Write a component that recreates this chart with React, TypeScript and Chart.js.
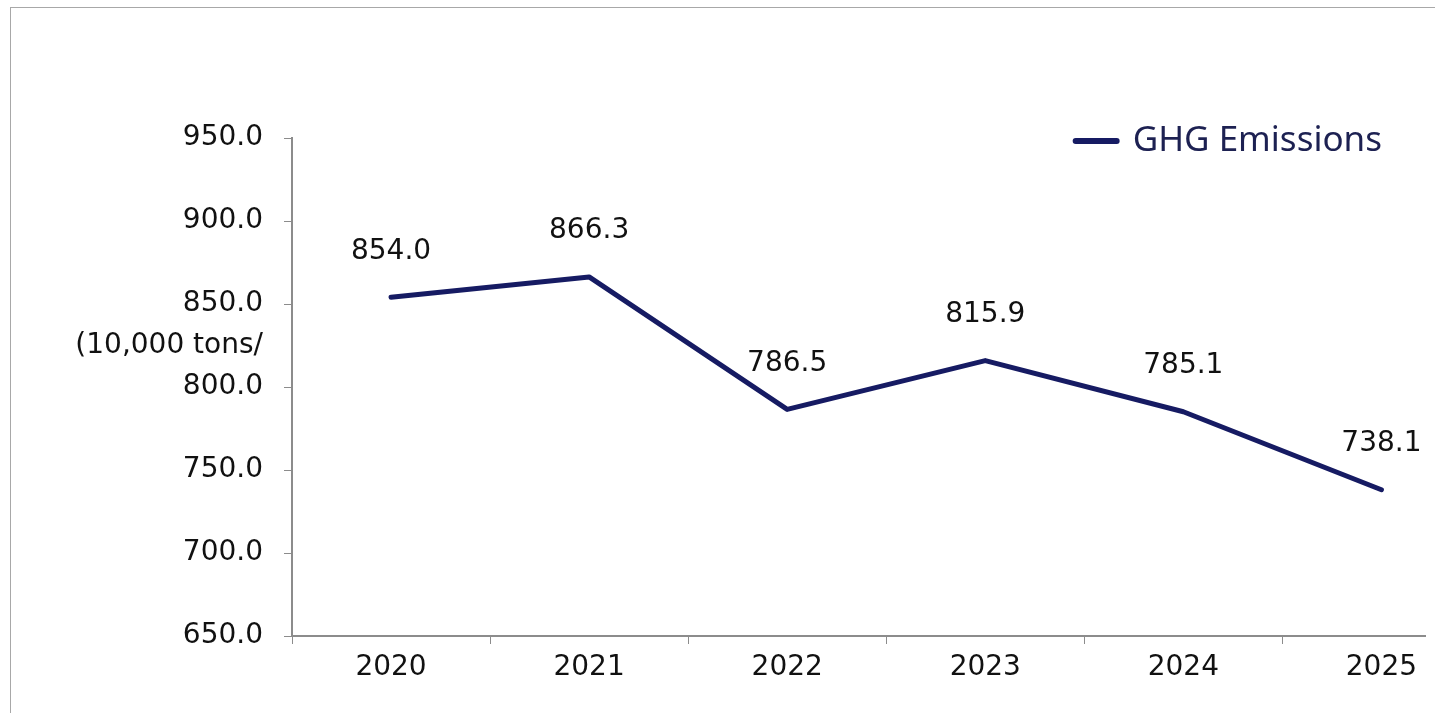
import React, { useEffect, useRef } from "react";
import { Chart, registerables } from "chart.js";

Chart.register(...registerables);

const categories = ["2020", "2021", "2022", "2023", "2024", "2025"];
const emissions = [854.0, 866.3, 786.5, 815.9, 785.1, 738.1];
const seriesLabel = "GHG Emissions";
const yTickValues = [650, 700, 750, 800, 825, 850, 900, 950];
const unitTickValue = 825;
const unitLabel = "(10,000 tons/";

export default function App() {
  const ref = useRef<HTMLCanvasElement>(null);

  useEffect(() => {
    if (!ref.current) return;
    const navy = "#161b63";
    const axisGray = "#8c8c8c";
    const transparent = "rgba(0,0,0,0)";
    const tickFont = { family: "DejaVu Sans", size: 28 };

    const labelPlugin = {
      id: "valueLabels",
      afterDatasetsDraw(chart: any) {
        const ctx = chart.ctx;
        const meta = chart.getDatasetMeta(0);
        ctx.save();
        ctx.font = "28px 'DejaVu Sans'";
        ctx.fillStyle = "#111111";
        ctx.textAlign = "center";
        ctx.textBaseline = "middle";
        meta.data.forEach((pt: any, i: number) => {
          ctx.fillText(emissions[i].toFixed(1), pt.x, pt.y - 46);
        });
        ctx.restore();
      },
    };

    const legendPlugin = {
      id: "legendRight",
      afterDraw(chart: any) {
        const { ctx, chartArea } = chart;
        const ds = chart.data.datasets[0];
        ctx.save();
        ctx.font = "35px 'Noto Sans'";
        const w = ctx.measureText(ds.label).width;
        const textRight = chartArea.right - 43;
        const textLeft = textRight - w;
        const y = chartArea.top + 3;
        ctx.strokeStyle = ds.borderColor;
        ctx.lineWidth = 6;
        ctx.lineCap = "round";
        ctx.beginPath();
        ctx.moveTo(textLeft - 57, y);
        ctx.lineTo(textLeft - 16, y);
        ctx.stroke();
        ctx.fillStyle = "#1d2152";
        ctx.textAlign = "left";
        ctx.textBaseline = "middle";
        ctx.fillText(ds.label, textLeft, y);
        ctx.restore();
      },
    };

    const chart = new Chart(ref.current, {
      type: "line",
      data: {
        datasets: [
          {
            label: seriesLabel,
            data: emissions.map((v, i) => ({ x: i, y: v })),
            borderColor: navy,
            backgroundColor: navy,
            borderWidth: 5,
            pointRadius: 0,
            tension: 0,
            borderCapStyle: "round",
            borderJoinStyle: "round",
          },
        ],
      },
      options: {
        animation: false,
        responsive: false,
        maintainAspectRatio: false,
        devicePixelRatio: 1,
        layout: { padding: { top: 138, right: 10, left: 0, bottom: 0 } },
        plugins: { legend: { display: false }, tooltip: { enabled: false } },
        scales: {
          x: {
            type: "linear",
            min: -0.5,
            max: 5.22,
            afterBuildTicks(scale: any) {
              const t: any[] = [];
              for (let i = 0; i < categories.length; i++) {
                t.push({ value: i - 0.5 });
                t.push({ value: i });
              }
              scale.ticks = t;
            },
            afterFit(scale: any) {
              scale.height = 77;
            },
            grid: {
              drawOnChartArea: false,
              drawTicks: true,
              tickLength: 8,
              lineWidth: 1,
              color: (c: any) =>
                c.tick && Number.isInteger(c.tick.value) ? transparent : axisGray,
            },
            border: { color: axisGray, width: 2 },
            ticks: {
              autoSkip: false,
              maxRotation: 0,
              font: tickFont,
              color: "#111111",
              padding: 7,
              callback: (v: any) =>
                Number.isInteger(v) ? categories[v] ?? "" : "",
            },
          },
          y: {
            type: "linear",
            min: 650,
            max: 950,
            afterBuildTicks(scale: any) {
              scale.ticks = yTickValues.map((v) => ({ value: v }));
            },
            afterFit(scale: any) {
              scale.width = 292;
            },
            grid: {
              drawOnChartArea: false,
              drawTicks: true,
              tickLength: 8,
              lineWidth: 1,
              color: (c: any) =>
                c.tick && c.tick.value === unitTickValue ? transparent : axisGray,
            },
            border: { color: axisGray, width: 2 },
            ticks: {
              autoSkip: false,
              font: tickFont,
              color: "#111111",
              padding: 21,
              callback: (v: any) =>
                v === unitTickValue ? unitLabel : Number(v).toFixed(1),
            },
          },
        },
      } as any,
      plugins: [labelPlugin, legendPlugin],
    } as any);

    return () => chart.destroy();
  }, []);

  return (
    <div
      style={{
        position: "fixed",
        left: 0,
        top: 0,
        width: 1435,
        height: 713,
        overflow: "hidden",
        background: "#ffffff",
      }}
    >
      <div
        style={{
          position: "absolute",
          left: 10,
          top: 7,
          width: 1460,
          height: 740,
          border: "1px solid #a8a8a8",
        }}
      />
      <canvas
        ref={ref}
        width={1435}
        height={713}
        style={{ position: "absolute", left: 0, top: 0, width: 1435, height: 713 }}
      />
    </div>
  );
}
